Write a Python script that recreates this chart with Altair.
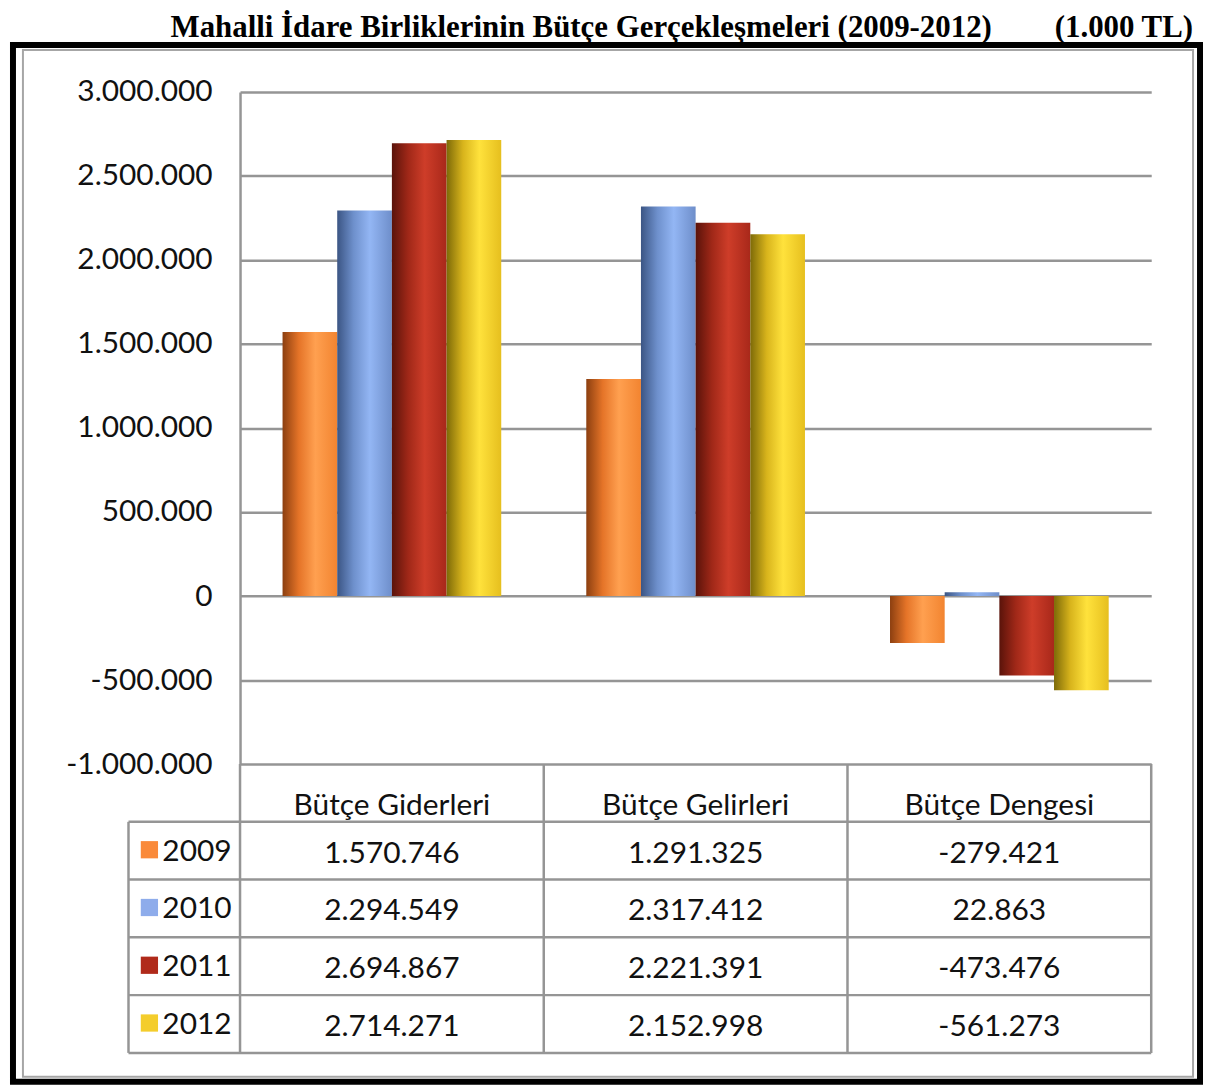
import altair as alt
import pandas as pd

# ---------------- data ----------------
categories = ["Bütçe Giderleri", "Bütçe Gelirleri", "Bütçe Dengesi"]
years = ["2009", "2010", "2011", "2012"]
giderler = [1570746, 2294549, 2694867, 2714271]
gelirler = [1291325, 2317412, 2221391, 2152998]
denge = [-279421, 22863, -473476, -561273]
y_ticks = [3000000, 2500000, 2000000, 1500000, 1000000, 500000, 0, -500000, -1000000]
title_main = "Mahalli İdare Birliklerinin Bütçe Gerçekleşmeleri (2009-2012)"
title_unit = "(1.000 TL)"

legend_colors = ["#FA8A3A", "#8EACEB", "#B02A1A", "#F4CD2C"]
gradient_stops = {
    "2009": ["#8C3F10", "#E57428", "#FFA050", "#F28430"],
    "2010": ["#3B5584", "#6E90CC", "#93B6F4", "#6E8ECA"],
    "2011": ["#5A130A", "#A02818", "#CE3D29", "#A8281A"],
    "2012": ["#7D6A08", "#D8B41C", "#FFE23C", "#E6BF1E"],
}


def fmt(v):
    s = f"{abs(v):,}".replace(",", ".")
    return ("-" if v < 0 else "") + s


series = [giderler, gelirler, denge]
rows = []
for ci, cat in enumerate(categories):
    for yi, yr in enumerate(years):
        rows.append({"category": cat, "year": yr, "value": series[ci][yi],
                     "label": fmt(series[ci][yi])})
df = pd.DataFrame(rows)

FONT = "Lato"
TXT = "#111111"
GRID = "#959595"
W = 915
H = 675
TH = 290

yscale = alt.Scale(domain=[-1000000, 3000000], nice=False, zero=True)
xscale = alt.Scale(domain=categories, paddingInner=0.28, paddingOuter=0.14)
xoff = alt.Scale(domain=years, paddingInner=0, paddingOuter=0)

yaxis = alt.Axis(
    values=y_ticks,
    labelExpr="replace(replace(format(datum.value, ','), regexp(',', 'g'), '.'), '\u2212', '-')",
    grid=True, gridColor=GRID, gridWidth=2.5,
    domain=True, domainColor=GRID, domainWidth=2.5,
    ticks=False, labelFont=FONT, labelFontSize=30, labelColor=TXT,
    labelPadding=28, title=None,
)

bar_layers = []
for yr in years:
    st = gradient_stops[yr]
    grad = alt.LinearGradient(
        gradient="linear", x1=0, x2=1, y1=0, y2=0,
        stops=[alt.GradientStop(offset=0, color=st[0]),
               alt.GradientStop(offset=0.3, color=st[1]),
               alt.GradientStop(offset=0.6, color=st[2]),
               alt.GradientStop(offset=1, color=st[3])],
    )
    bar_layers.append(
        alt.Chart(df).transform_filter(alt.datum.year == yr)
        .mark_bar(color=grad)
        .encode(
            x=alt.X("category:N", scale=xscale, axis=None, sort=categories),
            xOffset=alt.XOffset("year:N", scale=xoff),
            y=alt.Y("value:Q", scale=yscale, axis=yaxis),
        )
    )

one = pd.DataFrame({"k": [0]})
frame_outer = alt.Chart(one).mark_rect(fill="white", fillOpacity=0, stroke="black", strokeWidth=6).encode(
    x=alt.value(-228), x2=alt.value(964), y=alt.value(-47), y2=alt.value(994))
frame_inner = alt.Chart(one).mark_rect(fill="white", fillOpacity=0, stroke="#a6a6a6", strokeWidth=2).encode(
    x=alt.value(-218), x2=alt.value(957), y=alt.value(-42), y2=alt.value(989))
title_df = pd.DataFrame({"t": [title_main], "u": [title_unit]})
title1 = alt.Chart(title_df).mark_text(
    font="Liberation Serif", fontWeight="bold", fontSize=31, align="right", baseline="alphabetic", color="black"
).encode(x=alt.value(755), y=alt.value(-55), text="t:N")
title2 = alt.Chart(title_df).mark_text(
    font="Liberation Serif", fontWeight="bold", fontSize=31, align="right", baseline="alphabetic", color="black"
).encode(x=alt.value(957), y=alt.value(-55), text="u:N")

top = alt.layer(*bar_layers, frame_inner, frame_outer, title1, title2).properties(width=W, height=H)

# ---------------- table ----------------
table_rows = ["header"] + years
yrow = alt.Scale(domain=table_rows, paddingInner=0, paddingOuter=0)
xcat = alt.Scale(domain=categories, paddingInner=0, paddingOuter=0)

vals = alt.Chart(df).mark_text(font=FONT, fontSize=30, color=TXT, dy=3).encode(
    x=alt.X("category:N", scale=xcat, axis=None),
    y=alt.Y("year:N", scale=yrow, axis=None),
    text="label:N",
)
head_df = pd.DataFrame({"category": categories, "row": ["header"] * 3})
heads = alt.Chart(head_df).mark_text(font=FONT, fontSize=30, color=TXT, baseline="alphabetic", dy=-7).encode(
    x=alt.X("category:N", scale=xcat, axis=None),
    y=alt.Y("row:N", scale=yrow, axis=None, bandPosition=1),
    text="category:N",
)
yr_df = pd.DataFrame({"row": years})
hlines = alt.Chart(yr_df).mark_rule(color=GRID, strokeWidth=2.5).encode(
    y=alt.Y("row:N", scale=yrow, axis=None, bandPosition=0),
    x=alt.value(-112), x2=alt.value(W),
)
bottom_line = alt.Chart(pd.DataFrame({"row": [years[-1]]})).mark_rule(color=GRID, strokeWidth=2.5).encode(
    y=alt.Y("row:N", scale=yrow, axis=None, bandPosition=1),
    x=alt.value(-112), x2=alt.value(W),
)
cat_df = pd.DataFrame({"category": categories})
vlines = alt.Chart(cat_df).mark_rule(color=GRID, strokeWidth=2.5).encode(
    x=alt.X("category:N", scale=xcat, axis=None, bandPosition=0),
    y=alt.value(0), y2=alt.value(TH),
)
right_line = alt.Chart(pd.DataFrame({"category": [categories[-1]]})).mark_rule(color=GRID, strokeWidth=2.5).encode(
    x=alt.X("category:N", scale=xcat, axis=None, bandPosition=1),
    y=alt.value(0), y2=alt.value(TH),
)
left_line = alt.Chart(pd.DataFrame({"row": [years[0]]})).mark_rule(color=GRID, strokeWidth=2.5).encode(
    y=alt.Y("row:N", scale=yrow, axis=None, bandPosition=0),
    y2=alt.value(TH), x=alt.value(-112),
)
squares = alt.Chart(yr_df).mark_square(size=300, opacity=1, yOffset=-1).encode(
    y=alt.Y("row:N", scale=yrow, axis=None),
    x=alt.value(-91),
    color=alt.Color("row:N", scale=alt.Scale(domain=years, range=legend_colors), legend=None),
)
yr_text = alt.Chart(yr_df).mark_text(font=FONT, fontSize=30, color=TXT, align="left", dy=1).encode(
    y=alt.Y("row:N", scale=yrow, axis=None),
    x=alt.value(-78),
    text="row:N",
)

table = alt.layer(hlines, bottom_line, vlines, right_line, left_line, squares, yr_text, heads, vals).properties(
    width=W, height=TH)

chart = alt.vconcat(top, table, spacing=0, bounds="flush").resolve_scale(
    x="independent", y="independent", color="independent"
).configure_view(strokeWidth=0).properties(padding={"left": 2, "top": 2, "right": 0, "bottom": 0})

chart.save("out.html", embed_options={"renderer": "svg", "actions": False})
